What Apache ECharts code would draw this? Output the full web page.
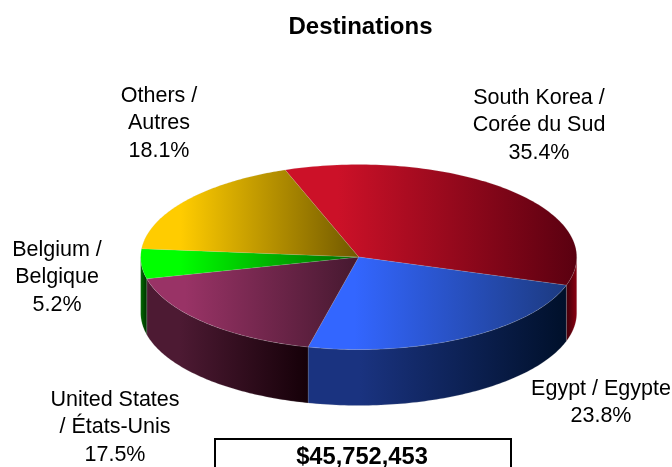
<!DOCTYPE html>
<html><head><meta charset="utf-8">
<style>html,body{margin:0;padding:0;background:#fff;overflow:hidden}#c{width:672px;height:467px}</style>
<script src="https://cdn.jsdelivr.net/npm/echarts@6/dist/echarts.min.js"></script>
</head><body><div id="c"></div>
<script>
const titleText = 'Destinations';
const totalText = '$45,752,453';
const categories = ['South Korea /\nCorée du Sud','Egypt / Egypte','United States\n/ États-Unis','Belgium /\nBelgique','Others /\nAutres'];
const values = [35.4,23.8,17.5,5.2,18.1];
const colors = ['#cc1128','#3366ff','#993366','#00ff00','#ffcc00'];
const darkTop = ['#5a0010','#1c3a80','#45182f','#006a00','#705800'];
const rimLeft = ['#50000c','#1a3380','#4d1a33','#006000','#806600'];
const rimRight = ['#8a0010','#00102a','#150008','#003000','#403300'];

const labelAt = [[539,125.5],[601,402.5],[115,427.5],[57,277.5],[159,123.5]];
const cx=358.7, cy=257, rx=218, ry=92.5, depth=56, startDeg=-19.7;
const total = values.reduce((a,b)=>a+b,0);
const fmt = v => v.toFixed(1)+'%';
function pt(a,dy){const r=a*Math.PI/180;return [cx+rx*Math.sin(r),cy-ry*Math.cos(r)+(dy||0)];}
function grad(x0,x1,c0,c1,hold){return {type:'linear',x:x0,y:0,x2:x1,y2:0,global:true,colorStops:[{offset:0,color:c0},{offset:hold||0,color:c0},{offset:1,color:c1}]};}
function angles(i){let s=0;for(let k=0;k<i;k++)s+=values[k];const a0=startDeg+s/total*360;return [a0,a0+values[i]/total*360];}
function renderRim(params,api){
  const i=api.value(0), [a0,a1]=angles(i);
  const lo=Math.max(a0,90), hi=Math.min(a1,270);
  if(hi<=lo) return {type:'group',children:[]};
  const top=[],bot=[];
  for(let a=lo;a<=hi+1e-6;a+=(hi-lo)/80){top.push(pt(a,0));bot.unshift(pt(a,depth));}
  const xs=top.map(p=>p[0]);
  return {type:'polygon',shape:{points:top.concat(bot)},
    style:{fill:grad(Math.min(...xs),Math.max(...xs),rimLeft[i],rimRight[i],0.2),stroke:'rgba(190,190,190,0.3)',lineWidth:0.6}};
}
function renderTop(params,api){
  const i=api.value(0), [a0,a1]=angles(i);
  const pts=[[cx,cy]];
  for(let k=0;k<=100;k++)pts.push(pt(a0+(a1-a0)*k/100,0));
  const xs=pts.map(p=>p[0]);
  return {type:'polygon',shape:{points:pts},
    style:{fill:grad(Math.min(...xs),Math.max(...xs),colors[i],darkTop[i],0.18),stroke:'rgba(200,200,200,0.25)',lineWidth:0.6}};
}
function renderLabel(params,api){
  const i=api.value(0);
  return {type:'text',x:labelAt[i][0],y:labelAt[i][1],
    style:{text:categories[i]+'\n'+fmt(values[i]),align:'center',verticalAlign:'middle',fill:'#000',font:'21.5px "Liberation Sans"',lineHeight:27.5}};
}
const rows=values.map((v,i)=>[i,v]);
const chart=echarts.init(document.getElementById('c'),null,{renderer:'canvas'});
chart.setOption({animation:false,backgroundColor:'#fff',
  title:{text:titleText,left:355.5,top:10,textAlign:'center',textStyle:{fontFamily:'Liberation Sans',fontWeight:'bold',fontSize:24,color:'#000'}},
  series:[
    {type:'custom',coordinateSystem:'none',data:rows,renderItem:renderRim,silent:true,z:1},
    {type:'custom',coordinateSystem:'none',data:rows,renderItem:renderTop,silent:true,z:2},
    {type:'custom',coordinateSystem:'none',data:rows,renderItem:renderLabel,silent:true,z:3}
  ],
  graphic:[
    {type:'rect',shape:{x:215,y:439,width:296,height:40},style:{fill:'#fff',stroke:'#000',lineWidth:2},z:5},
    {type:'text',x:362,y:457,style:{text:totalText,align:'center',verticalAlign:'middle',font:'bold 23.7px "Liberation Sans"',fill:'#000'},z:6}
  ]
});
</script></body></html>
